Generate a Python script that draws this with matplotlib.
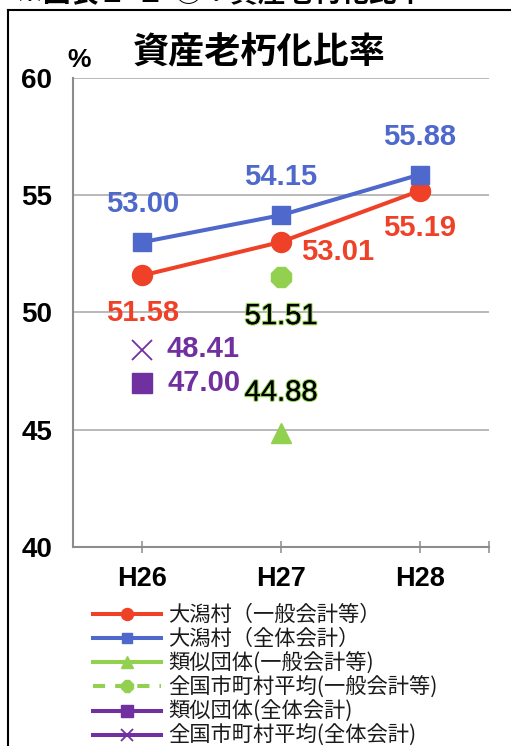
import numpy as np
import matplotlib
matplotlib.use("Agg")
import matplotlib.pyplot as plt
import matplotlib.patheffects as pe
from matplotlib.lines import Line2D

plt.rcParams['font.family'] = ['Liberation Sans', 'Noto Sans CJK JP', 'DejaVu Sans']

# ---- data ----
years = ["H26", "H27", "H28"]
village_general = [51.58, 53.01, 55.19]          # 大潟村（一般会計等）
village_total = [53.00, 54.15, 55.88]            # 大潟村（全体会計）
similar_general = [np.nan, 44.88, np.nan]        # 類似団体(一般会計等)
national_general = [np.nan, 51.51, np.nan]       # 全国市町村平均(一般会計等)
similar_total = [47.00, np.nan, np.nan]          # 類似団体(全体会計)
national_total = [48.41, np.nan, np.nan]         # 全国市町村平均(全体会計)

series_labels = ["大潟村（一般会計等）", "大潟村（全体会計）", "類似団体(一般会計等)",
                 "全国市町村平均(一般会計等)", "類似団体(全体会計)", "全国市町村平均(全体会計)"]
y_ticks = [40, 45, 50, 55, 60]

RED = "#EF4128"
BLUE = "#4E68CB"
GREEN = "#92D050"
PURPLE = "#7030A0"
GRID = "#A6A6A6"

W, H, DPI = 511, 746, 100
fig = plt.figure(figsize=(W / DPI, H / DPI), dpi=DPI)

def px(x0, y0, x1, y1):
    return [x0 / W, 1 - y1 / H, (x1 - x0) / W, (y1 - y0) / H]

ax = fig.add_axes(px(73, 78, 489, 547))
x = np.arange(len(years))

lw = 2.9
l1, = ax.plot(x, village_general, color=RED, lw=lw, marker='o', ms=14.4,
              label=series_labels[0], zorder=5)
l2, = ax.plot(x, village_total, color=BLUE, lw=lw, marker='s', ms=12.5,
              label=series_labels[1], zorder=5)
l3, = ax.plot(x, similar_general, color=GREEN, lw=lw, marker='^', ms=14.5,
              label=series_labels[2], zorder=5)
l4, = ax.plot(x, national_general, color=GREEN, lw=lw, marker='8', ms=15.5,
              linestyle=(0, (3, 2.5)), label=series_labels[3], zorder=5)
l5, = ax.plot(x, similar_total, color=PURPLE, lw=lw, marker='s', ms=14.5,
              label=series_labels[4], zorder=5)
l6, = ax.plot(x, national_total, color=PURPLE, lw=lw, marker='x', ms=14.5, mew=1.3,
              label=series_labels[5], zorder=5)

ax.set_xlim(-0.5, 2.5)
ax.set_ylim(40, 60)
ax.set_yticks(y_ticks)
ax.set_yticklabels([str(v) for v in y_ticks])
ax.set_xticks(list(x) + [2.5])
ax.set_xticklabels(years + [""])
ax.yaxis.grid(True, color=GRID, lw=1.1)
ax.set_axisbelow(True)
for s in ["top", "right"]:
    ax.spines[s].set_visible(False)
for s in ["left", "bottom"]:
    ax.spines[s].set_color("#8C8C8C")
    ax.spines[s].set_linewidth(1.5)
ax.tick_params(axis='y', length=0, pad=15, labelsize=20)
ax.tick_params(axis='x', direction='inout', length=8, width=1.1, color="#8C8C8C",
               pad=10, labelsize=19.5)
for t in ax.get_yticklabels() + ax.get_xticklabels():
    t.set_fontweight('bold')

# ---- value labels ----
P = 72 / DPI  # pixels -> points
def label(xi, yi, dx, dy, color, bold=True, outline=None):
    kw = dict(textcoords='offset points', ha='center', va='center', fontsize=21,
              fontweight='bold' if bold else 'normal', color=color, zorder=6)
    t = ax.annotate(f"{yi:.2f}", (xi, yi), xytext=(dx * P, dy * P), **kw)
    if outline:
        t.set_path_effects([pe.withStroke(linewidth=1.7, foreground=outline),
                            pe.Normal()])

label(0, village_general[0], 0, -38, RED)
label(1, village_general[1], 57, -10.5, RED)
label(2, village_general[2], 0, -37.5, RED)
for i in range(3):
    label(i, village_total[i], 0, 38, BLUE)
label(1, national_general[1], 0, -39, "black", bold=False, outline=GREEN)
label(1, similar_general[1], 0, 40, "black", bold=False, outline=GREEN)
label(0, national_total[0], 61, 1, PURPLE)
label(0, similar_total[0], 62, 0, PURPLE)

# ---- title and unit ----
fig.text(259 / W, 1 - 53 / H, "資産老朽化比率", ha='center', va='center', fontsize=26,
         fontweight='bold', family=['Noto Sans CJK JP'])
fig.text(79 / W, 1 - 60 / H, "%", ha='center', va='center', fontsize=19, fontweight='bold')

# caption above the frame (mostly out of view)
fig.text(15 / W, 1 - 1 / H, "※図表２-１-③：資産老朽化比率", ha='left', va='baseline',
         fontsize=20, fontweight='bold', family=['Noto Sans CJK JP'])

# outer frame
fig.add_artist(Line2D([8 / W, 8 / W], [0, 1 - 10 / H], transform=fig.transFigure,
                      color='black', lw=1.5))
fig.add_artist(Line2D([8 / W, 1], [1 - 10 / H, 1 - 10 / H], transform=fig.transFigure,
                      color='black', lw=1.5))

# ---- legend ----
leg = fig.legend(handles=[l1, l2, l3, l4, l5, l6], loc='upper left',
                 bbox_to_anchor=(93 / W, 1 - 604 / H), frameon=False,
                 prop={'family': ['Noto Sans CJK JP'], 'size': 15.3},
                 handlelength=3.2, handletextpad=0.35, labelspacing=0.1,
                 borderpad=0, borderaxespad=0, markerscale=0.6)
for t in leg.get_texts():
    t.set_color("#1a1a1a")

fig.savefig("out.png", dpi=DPI)
